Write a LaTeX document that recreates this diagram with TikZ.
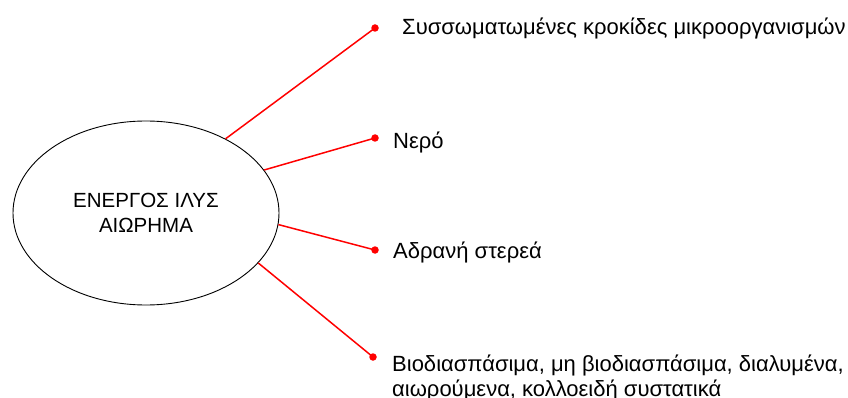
\documentclass[tikz,border=0pt]{standalone}
\usepackage{fontspec}
\setmainfont{Liberation Sans}
\usetikzlibrary{shapes.geometric}

\begin{document}
\begin{tikzpicture}[x=1pt,y=-1pt,
    blob/.style={ellipse,draw=black,line width=0.9pt,minimum width=266pt,
      minimum height=184pt,inner sep=0pt,align=center,
      font=\fontsize{20.5}{25}\selectfont},
    dot/.style={circle,fill=red,draw=none,minimum size=7.5pt,inner sep=0pt},
    link/.style={draw=red,line width=1.5pt},
    lbl/.style={anchor=base west,inner sep=0pt,align=left,
      font=\fontsize{22}{25}\selectfont}]
  \useasboundingbox (0,0) rectangle (848,398);

  % central ellipse
  \node[blob] (sludge) at (146,213) {ΕΝΕΡΓΟΣ ΙΛΥΣ\\ΑΙΩΡΗΜΑ};

  % end dots
  \node[dot] (d1) at (375,28) {};
  \node[dot] (d2) at (375,138) {};
  \node[dot] (d3) at (375,250) {};
  \node[dot] (d4) at (373,357) {};

  % connectors
  \draw[link] (sludge.43.5) -- (d1.center);
  \draw[link] (sludge.20.3) -- (d2.center);
  \draw[link] (sludge.-5.8) -- (d3.center);
  \draw[link] (sludge.-24.4) -- (d4.center);

  % labels (a two-line node sits on its last baseline)
  \node[lbl] (t1) at (402,35) {Συσσωματωμένες κροκίδες μικροοργανισμών};
  \node[lbl] (t2) at (393,149) {Νερό};
  \node[lbl] (t3) at (393,258) {Αδρανή στερεά};
  \node[lbl] (t4) at (392,396) {Βιοδιασπάσιμα, μη βιοδιασπάσιμα, διαλυμένα,\\αιωρούμενα, κολλοειδή συστατικά};
\end{tikzpicture}
\end{document}
